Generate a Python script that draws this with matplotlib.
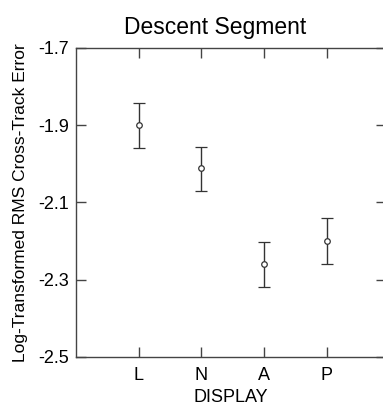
import matplotlib
matplotlib.use('Agg')
import matplotlib.pyplot as plt

displays = ['L', 'N', 'A', 'P']
means = [-1.90, -2.011, -2.26, -2.20]
upper = [-1.843, -1.956, -2.203, -2.141]
lower = [-1.960, -2.071, -2.319, -2.259]

plt.rcParams['font.family'] = ['Liberation Sans', 'DejaVu Sans']

fig = plt.figure(figsize=(3.83, 4.12), dpi=100)
ax = fig.add_axes([0.198, 0.1335, 0.81, 0.75])

x = list(range(1, len(displays) + 1))
yerr = [[m - lo for m, lo in zip(means, lower)], [up - m for m, up in zip(means, upper)]]
ax.errorbar(x, means, yerr=yerr, fmt='o', ms=4, mfc='white', mec='#333333',
            mew=0.9, ecolor='#333333', elinewidth=1.0, capsize=4, capthick=1.0)

ax.set_xlim(0, 4.95)
ax.set_ylim(-2.5, -1.7)
ax.set_xticks(x)
ax.set_xticklabels(displays)
ax.set_yticks([-2.5, -2.3, -2.1, -1.9, -1.7])
ax.set_yticklabels(['-2.5', '-2.3', '-2.1', '-1.9', '-1.7'])
ax.tick_params(direction='in', length=7, width=1, color='#444444', labelsize=13,
               top=True, right=True, pad=5)
ax.tick_params(axis='x', pad=7)
for s in ax.spines.values():
    s.set_color('#444444')
    s.set_linewidth(1.0)

ax.set_title('Descent Segment', fontsize=16.5, pad=10, x=0.45)
ax.set_xlabel('DISPLAY', fontsize=13, labelpad=4)
ax.set_ylabel('Log-Transformed RMS Cross-Track Error', fontsize=12.5, labelpad=7)

fig.savefig('out.png', dpi=100)
